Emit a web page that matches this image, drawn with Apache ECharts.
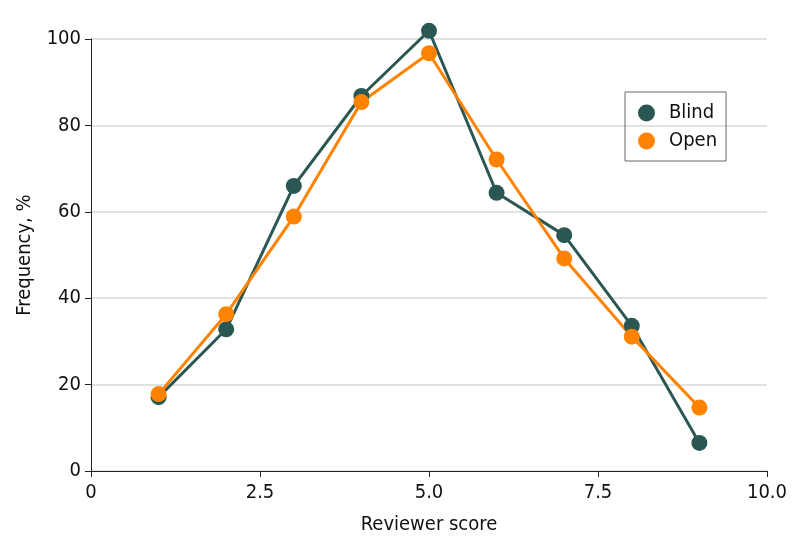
<!DOCTYPE html>
<html><head><meta charset="utf-8">
<script src="https://cdn.jsdelivr.net/npm/echarts@6/dist/echarts.min.js"></script>
<style>html,body{margin:0;padding:0;background:#fff}#c{width:794px;height:556px}</style>
</head><body><div id="c"></div>
<script>
const scores = [1, 2, 3, 4, 5, 6, 7, 8, 9];
const blind = [17.1, 32.8, 66.0, 86.8, 101.9, 64.4, 54.6, 33.6, 6.5];
const open = [17.8, 36.3, 58.9, 85.4, 96.7, 72.1, 49.2, 31.1, 14.7];
const xTicks = ['0', '2.5', '5.0', '7.5', '10.0'];
const FONT = '"DejaVu Sans Condensed", "Liberation Sans Narrow", sans-serif';
const chart = echarts.init(document.getElementById('c'), null, {renderer: 'canvas'});
const toPairs = (ys) => scores.map((x, i) => [x, ys[i]]);
chart.setOption({
  animation: false,
  textStyle: {fontFamily: FONT},
  grid: {left: 91, right: 27, top: 39, bottom: 85, containLabel: false},
  legend: {
    data: ['Blind', 'Open'],
    orient: 'vertical',
    left: 625, top: 92,
    padding: [11, 9, 10, 13],
    itemGap: 8,
    borderColor: '#666', borderWidth: 1,
    icon: 'circle', itemWidth: 17, itemHeight: 17,
    textStyle: {fontSize: 20, color: '#111', fontFamily: FONT, padding: [0, 0, 0, 9]}
  },
  xAxis: {
    type: 'value', min: 0, max: 10, interval: 2.5,
    name: 'Reviewer score', nameLocation: 'middle', nameGap: 44,
    nameTextStyle: {fontSize: 20, color: '#111', fontFamily: FONT},
    axisLine: {show: true, lineStyle: {color: '#222', width: 1}},
    axisTick: {show: true, length: 6, lineStyle: {color: '#222'}},
    splitLine: {show: false},
    axisLabel: {fontSize: 20, color: '#111', margin: 12, fontFamily: FONT,
      formatter: (v) => xTicks[Math.round(v / 2.5)]}
  },
  yAxis: {
    type: 'value', min: 0, max: 100, interval: 20,
    name: 'Frequency, %', nameLocation: 'middle', nameGap: 56, nameRotate: 90,
    nameTextStyle: {fontSize: 20, color: '#111', fontFamily: FONT},
    axisLine: {show: true, lineStyle: {color: '#222', width: 1}},
    axisTick: {show: true, length: 6, lineStyle: {color: '#222'}},
    splitLine: {show: true, lineStyle: {color: '#d9d9d9', width: 1.5}},
    axisLabel: {fontSize: 20, color: '#111', margin: 10, fontFamily: FONT}
  },
  series: [
    {name: 'Blind', type: 'line', data: toPairs(blind), symbol: 'circle', symbolSize: 16, clip: false,
     itemStyle: {color: '#2b5753'}, lineStyle: {color: '#2b5753', width: 3}},
    {name: 'Open', type: 'line', data: toPairs(open), symbol: 'circle', symbolSize: 16, clip: false,
     itemStyle: {color: '#ff8200'}, lineStyle: {color: '#ff8200', width: 3}}
  ]
});
</script></body></html>
